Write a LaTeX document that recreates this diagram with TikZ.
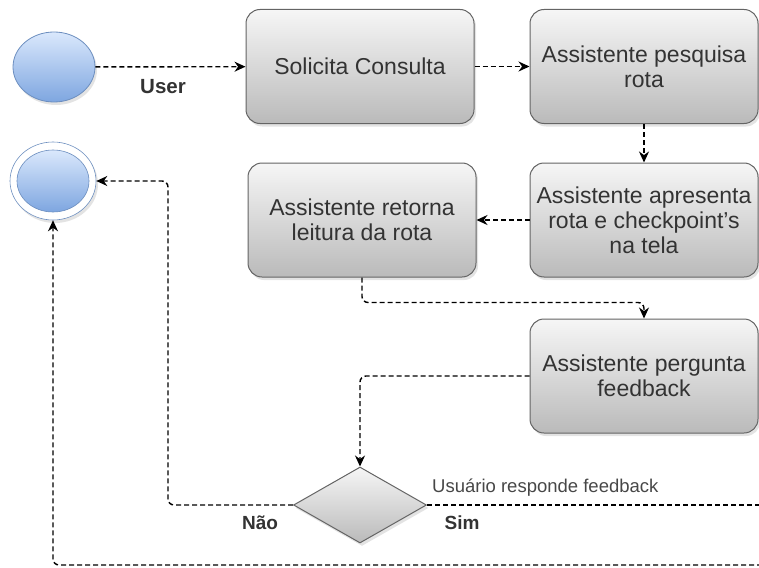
\documentclass[tikz,border=0pt]{standalone}
\usepackage{fontspec}
\setmainfont{Liberation Sans}
\usetikzlibrary{arrows.meta,shadows,shapes.geometric}
\definecolor{boxtop}{RGB}{246,246,246}
\definecolor{boxbot}{RGB}{186,186,186}
\definecolor{boxline}{RGB}{100,100,100}
\definecolor{bluetop}{RGB}{218,232,252}
\definecolor{bluebot}{RGB}{126,166,224}
\definecolor{blueline}{RGB}{108,142,191}
\definecolor{txt}{RGB}{51,51,51}
\begin{document}
\begin{tikzpicture}[x=1pt,y=-1pt,
  shade/.style={drop shadow={shadow xshift=2pt,shadow yshift=-3pt,opacity=0.22}},
  stepbox/.style={draw=boxline, line width=1pt, rounded corners=14pt,
    top color=boxtop, bottom color=boxbot, minimum width=228pt, minimum height=114pt,
    align=center, text=txt, font=\fontsize{23}{25}\selectfont, inner sep=0pt, shade},
  startev/.style={ellipse, draw=blueline, line width=0.8pt, top color=bluetop, bottom color=bluebot,
    minimum width=82pt, minimum height=70pt, inner sep=0pt, shade},
  decision/.style={diamond, draw=boxline, line width=1pt, top color=boxtop, bottom color=boxbot,
    minimum width=133pt, minimum height=76pt, inner sep=0pt, shade},
  dashline/.style={line width=1.4pt, dash pattern=on 5pt off 3pt, rounded corners=6pt},
  conn/.style={dashline, -{Stealth[length=11pt,width=10pt]}},
  lbl/.style={text=txt, font=\fontsize{19}{21}\selectfont\bfseries, inner sep=0pt},
  flbl/.style={text=txt!90, font=\fontsize{18.5}{21}\selectfont, inner sep=0pt}
]
\useasboundingbox (0,0) rectangle (759,567);

% nodes
\node[startev] (start) at (54,67) {};
\node[ellipse, draw=blueline, line width=0.6pt, fill=white, minimum width=86pt, minimum height=78pt, inner sep=0pt, shade] (endouter) at (53,181) {};
\node[ellipse, draw=blueline, line width=0.6pt, top color=bluetop, bottom color=bluebot, minimum width=72pt, minimum height=62pt, inner sep=0pt] (endinner) at (53,181) {};

\node[stepbox] (solicita) at (360,66.5) {Solicita Consulta};
\node[stepbox] (pesquisa) at (644,66.5) {Assistente pesquisa\\rota};
\node[stepbox] (apresenta) at (644,220) {Assistente apresenta\\rota e checkpoint's\\na tela};
\node[stepbox] (retorna) at (362,220) {Assistente retorna\\leitura da rota};
\node[stepbox] (pergunta) at (644,376) {Assistente pergunta\\feedback};
\node[decision] (dec) at (360,505) {};

\coordinate (nbend) at (168,181);
\coordinate (simend) at (762,505);
\coordinate (botright) at (762,565);

% connectors
\draw[conn] (start) -- (solicita);
\node[lbl, font=\fontsize{20.5}{22}\selectfont\bfseries] (userlbl) at (163,87) {User};
\draw[conn] (solicita) -- (pesquisa);
\draw[conn] (pesquisa.south) -- (apresenta.north);
\draw[conn] (apresenta.west) -- (retorna.east);
\draw[conn] (retorna.south) -- ++(0,25) -| (pergunta.north);
\draw[conn] (pergunta.west) -| (dec.north);
\draw[conn] (dec.west) -| (nbend) -- (endouter.east);
\draw[dashline] (dec.east) -- (simend);
\draw[conn] (botright) -| (endouter.south);

% labels
\node[lbl] (naolbl) at (260,523) {Não};
\node[lbl] (simlbl) at (462,523) {Sim};
\node[flbl, anchor=base west] (resplbl) at (432,492) {Usuário responde feedback};
\end{tikzpicture}
\end{document}
